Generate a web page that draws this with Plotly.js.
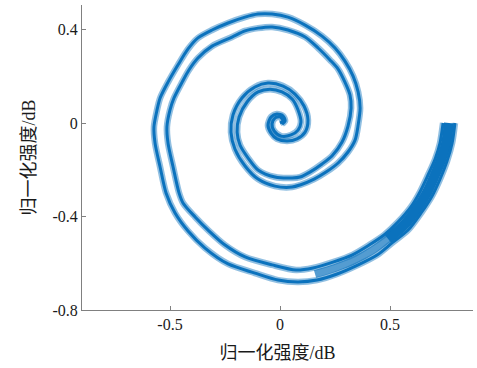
<!DOCTYPE html>
<html>
<head>
<meta charset="utf-8">
<script src="https://cdn.plot.ly/plotly-3.0.1.min.js"></script>
<style>html,body{margin:0;padding:0;background:#fff;}#chart{width:477px;height:368px;}</style>
</head>
<body>
<div id="chart"></div>
<script>
// Outer strand of the spiral (outer end -> centre)
const outerX = [0.795,0.782,0.759,0.727,0.691,0.641,0.582,0.509,0.441,0.355,0.259,0.168,0.082,-0.009,-0.114,-0.236,-0.341,-0.418,-0.477,-0.518,-0.545,-0.568,-0.573,-0.559,-0.545,-0.509,-0.464,-0.418,-0.373,-0.309,-0.236,-0.159,-0.100,-0.036,0.036,0.114,0.191,0.250,0.295,0.332,0.355,0.364,0.355,0.341,0.309,0.264,0.209,0.155,0.091,0.055,-0.023,-0.100,-0.159,-0.205,-0.223,-0.214,-0.173,-0.114,-0.055,0.014,0.068,0.109,0.127,0.114,0.077,0.032,-0.014,-0.041,-0.055,-0.041,-0.014,0.014,0.023,0.009];
const outerY = [0,-0.086,-0.163,-0.240,-0.312,-0.385,-0.458,-0.513,-0.565,-0.607,-0.646,-0.672,-0.680,-0.672,-0.642,-0.603,-0.535,-0.462,-0.385,-0.299,-0.188,-0.086,-0.017,0.056,0.107,0.175,0.248,0.317,0.364,0.398,0.428,0.453,0.466,0.466,0.453,0.419,0.372,0.321,0.265,0.201,0.133,0.064,-0.009,-0.073,-0.124,-0.171,-0.210,-0.240,-0.265,-0.274,-0.270,-0.240,-0.184,-0.111,-0.039,0.034,0.107,0.154,0.171,0.158,0.124,0.073,0.013,-0.039,-0.068,-0.077,-0.068,-0.043,-0.009,0.026,0.039,0.030,0.009,-0.004];
// Inner strand of the spiral
const innerX = [0.741,0.727,0.705,0.673,0.636,0.595,0.536,0.473,0.405,0.327,0.241,0.150,0.073,-0.036,-0.159,-0.250,-0.327,-0.386,-0.441,-0.459,-0.486,-0.509,-0.514,-0.500,-0.482,-0.445,-0.414,-0.373,-0.309,-0.218,-0.159,-0.100,-0.036,0.036,0.114,0.173,0.227,0.264,0.295,0.318,0.323,0.309,0.282,0.236,0.191,0.136,0.091,0.055,-0.023,-0.100,-0.145,-0.182,-0.195,-0.186,-0.150,-0.100,-0.045,0.009,0.055,0.082,0.095,0.082,0.050,0.005,-0.027,-0.036,-0.023,0,0.014,0];
const innerY = [0,-0.086,-0.154,-0.222,-0.295,-0.359,-0.424,-0.479,-0.522,-0.565,-0.595,-0.620,-0.629,-0.607,-0.573,-0.522,-0.458,-0.402,-0.342,-0.299,-0.188,-0.086,-0.017,0.056,0.107,0.175,0.227,0.278,0.329,0.368,0.394,0.406,0.411,0.398,0.368,0.321,0.270,0.231,0.175,0.120,0.064,-0.013,-0.081,-0.141,-0.175,-0.210,-0.231,-0.235,-0.231,-0.201,-0.150,-0.094,-0.039,0.026,0.090,0.133,0.145,0.133,0.103,0.056,0.004,-0.030,-0.051,-0.056,-0.034,-0.004,0.021,0.026,0.009,0];
// Merged (noisy, overlapping) part of the outer arm
const bandX = [0.768,0.755,0.732,0.700,0.664,0.618,0.559,0.491,0.423,0.341,0.250,0.159];
const bandY = [0,-0.086,-0.158,-0.231,-0.304,-0.372,-0.441,-0.496,-0.543,-0.586,-0.620,-0.646];

const xTickVals = [-0.5, 0, 0.5];
const xTickText = ['-0.5', '0', '0.5'];
const yTickVals = [-0.8, -0.4, 0, 0.4];
const yTickText = ['-0.8', '-0.4', '0', '0.4'];
const axisTitle = '归一化强度/dB';

const blue = '#0b72bd';
function tr(x, y, w, op) {
  return {x: x, y: y, type: 'scatter', mode: 'lines',
    line: {color: blue, width: w, shape: 'spline', smoothing: 0.8},
    opacity: op, hoverinfo: 'skip', showlegend: false};
}
const data = [
  tr(outerX, outerY, 6.5, 0.45),
  tr(innerX, innerY, 6.5, 0.45),
  tr(bandX.slice(6), bandY.slice(6), 8, 0.7),
  tr(bandX.slice(0, 8), bandY.slice(0, 8), 10, 1),
  tr(outerX, outerY, 3, 1),
  tr(innerX, innerY, 3, 1)
];

const fontFam = '"Liberation Serif", "Times New Roman", "Noto Sans CJK SC", serif';
const layout = {
  width: 477, height: 368,
  margin: {l: 82, r: 4, t: 5, b: 58},
  paper_bgcolor: '#fff', plot_bgcolor: '#fff',
  font: {family: fontFam, size: 16, color: '#1a1a1a'},
  xaxis: {
    range: [-0.9, 0.877], tickvals: xTickVals, ticktext: xTickText,
    showgrid: false, zeroline: false, showline: true, linecolor: '#808080', linewidth: 1,
    ticks: 'inside', ticklen: 4, tickcolor: '#808080', tickfont: {size: 16},
    title: {text: axisTitle, font: {size: 18}, standoff: 14}
  },
  yaxis: {
    range: [-0.8, 0.505], tickvals: yTickVals, ticktext: yTickText,
    showgrid: false, zeroline: false, showline: true, linecolor: '#808080', linewidth: 1,
    ticks: 'inside', ticklen: 4, tickcolor: '#808080', tickfont: {size: 16},
    title: {text: axisTitle, font: {size: 18}, standoff: 12}
  }
};
Plotly.newPlot('chart', data, layout, {staticPlot: true, displayModeBar: false});
</script>
</body>
</html>
